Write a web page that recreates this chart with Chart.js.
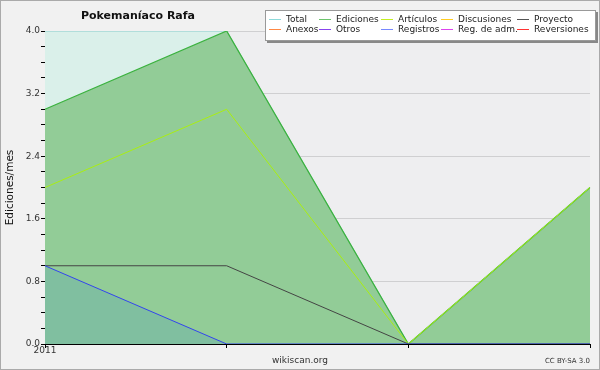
<!DOCTYPE html>
<html>
<head>
<meta charset="utf-8">
<script src="https://cdn.jsdelivr.net/npm/chart.js@4.4.1/dist/chart.umd.min.js"></script>
<style>
  body { margin: 0; background: #f1f1f1; font-family: "DejaVu Sans", sans-serif; }
  #wrap { position: relative; width: 600px; height: 370px; }
  #frame { position: absolute; left: 0; top: 0; width: 598px; height: 368px; border: 1px solid #aaa; pointer-events: none; }
  #title { position: absolute; left: 138px; top: 9px; transform: translateX(-50%); font-weight: bold; font-size: 11px; color: #111; white-space: nowrap; }
  #legend { position: absolute; left: 265px; top: 10px; width: 329px; height: 29px; background: #fff; border: 1px solid #999; box-shadow: 2px 2px 0 #888; }
  .item { position: absolute; font-size: 9px; color: #222; line-height: 10px; white-space: nowrap; }
  .item i { position: absolute; left: -17px; top: 5px; width: 12px; height: 1px; }
  #site { position: absolute; left: 300px; top: 355px; transform: translateX(-50%); font-size: 9px; color: #333; }
  #lic { position: absolute; right: 10px; top: 357px; font-size: 7px; color: #333; }
</style>
</head>
<body>
<div id="wrap">
  <canvas id="c" width="600" height="370"></canvas>
  <div id="title">Pokemaníaco Rafa</div>
  <div id="legend"></div>
  <div id="site">wikiscan.org</div>
  <div id="lic">CC BY-SA 3.0</div>
  <div id="frame"></div>
</div>
<script>
// months shown on the x axis (only the year is labelled)
const months = ['2011-01', '2011-02', '2011-03', '2011-04'];

const total       = [4, 4, 0, 2];
const ediciones   = [3, 4, 0, 2];
const articulos   = [2, 3, 0, 2];
const discusiones = [0, 0, 0, 0];
const proyecto    = [1, 1, 0, 0];
const anexos      = [0, 0, 0, 0];
const otros       = [0, 0, 0, 0];
const registros   = [1, 0, 0, 0];
const regAdm      = [0, 0, 0, 0];
const reversiones = [0, 0, 0, 0];

const legendRows = [
  [['Total', '#8ddada'], ['Ediciones', '#6cc46c'], ['Artículos', '#c4ee22'], ['Discusiones', '#ffcc22'], ['Proyecto', '#555']],
  [['Anexos', '#ff8844'], ['Otros', '#8844ee'], ['Registros', '#7788ff'], ['Reg. de adm.', '#dd44ee'], ['Reversiones', '#ff3333']]
];
const legendX = [20, 70, 132, 192, 268];

const legend = document.getElementById('legend');
legendRows.forEach((row, r) => {
  row.forEach(([name, color], k) => {
    const d = document.createElement('div');
    d.className = 'item';
    d.style.left = legendX[k] + 'px';
    d.style.top = (3 + r * 10) + 'px';
    d.innerHTML = '<i style="background:' + color + '"></i>' + name;
    legend.appendChild(d);
  });
});

const line = (label, data, color, fill, bg, width) => ({
  label, data, borderColor: color, backgroundColor: bg || color,
  fill: fill ? 'origin' : false, borderWidth: width || 1,
  pointRadius: 0, tension: 0
});

const plotBg = {
  id: 'plotBg',
  beforeDraw(chart) {
    const a = chart.chartArea, ctx = chart.ctx;
    ctx.save();
    ctx.fillStyle = '#eeeef0';
    ctx.fillRect(a.left, a.top, a.right - a.left, a.bottom - a.top);
    ctx.restore();
  }
};

new Chart(document.getElementById('c'), {
  type: 'line',
  data: {
    labels: months,
    datasets: [
      line('Registros', registros, '#3344ee', true, '#80bfa0'),
      line('Proyecto', proyecto, '#444444', false),
      line('Artículos', articulos, '#aaee11', false),
      line('Ediciones', ediciones, '#3bb23f', true, '#92cc97', 1.3),
      line('Total', total, '#88cccc', true, '#daf0ea'),
      line('Discusiones', discusiones, '#ffcc22', false),
      line('Anexos', anexos, '#ff8844', false),
      line('Otros', otros, '#8844ee', false),
      line('Reg. de adm.', regAdm, '#dd44ee', false),
      line('Reversiones', reversiones, '#ff3333', false)
    ]
  },
  options: {
    responsive: false,
    animation: false,
    layout: { padding: { left: 0, top: 31, right: 10, bottom: 0 } },
    plugins: { legend: { display: false }, tooltip: { enabled: false } },
    scales: {
      x: {
        z: 1,
        offset: false,
        afterFit: s => { s.height = 26; },
        border: { color: '#000', width: 1 },
        grid: { drawOnChartArea: false, tickLength: 4, tickColor: '#000' },
        ticks: {
          autoSkip: false, maxRotation: 0, padding: -3,
          font: { family: 'DejaVu Sans', size: 9 }, color: '#333',
          callback: (v, i) => i === 0 ? months[0].slice(0, 4) : ''
        }
      },
      y: {
        z: 1,
        min: 0, max: 4,
        afterFit: s => { s.width = 45; },
        border: { color: '#000', width: 1 },
        grid: {
          color: c => c.index % 4 === 0 ? 'rgba(0,0,0,0.13)' : 'rgba(0,0,0,0)',
          tickColor: '#000', tickLength: 4
        },
        ticks: {
          stepSize: 0.2, autoSkip: false, padding: 1,
          font: { family: 'DejaVu Sans', size: 9 }, color: '#333',
          callback: (v, i) => i % 4 === 0 ? v.toFixed(1) : ''
        },
        title: {
          display: true, text: 'Ediciones/mes', color: '#111',
          font: { family: 'DejaVu Sans', size: 10.5 }, padding: { top: 4, bottom: 0 }
        }
      }
    }
  },
  plugins: [plotBg]
});
</script>
</body>
</html>
